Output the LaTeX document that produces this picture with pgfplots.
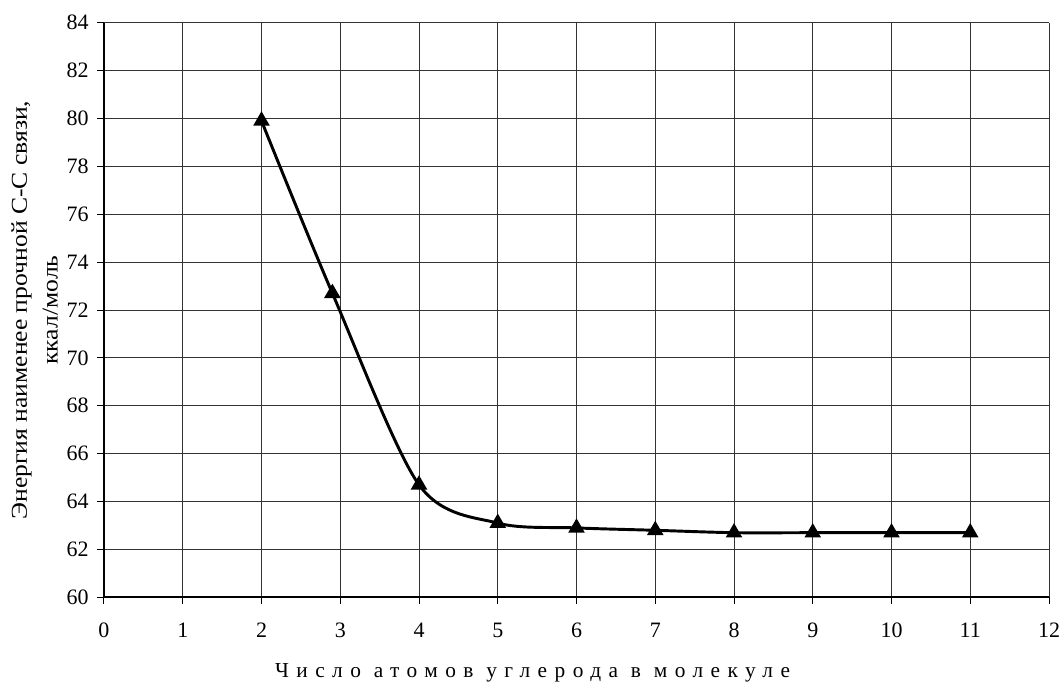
\documentclass[border=0pt]{standalone}
\usepackage{pgfplots}
\pgfplotsset{compat=1.18}
\usepackage{fontspec}
\setmainfont{Liberation Serif}
\newfontfamily\spaced[LetterSpace=35]{Liberation Serif}
\newfontfamily\ylfont[FakeStretch=1.13]{Liberation Serif}
\begin{document}
\begin{tikzpicture}
\begin{axis}[
  scale only axis,
  width=708.75pt, height=431pt,
  xmin=0, xmax=12, ymin=60, ymax=84,
  xtick={0,1,...,12}, ytick={60,62,...,84},
  grid=major,
  major grid style={draw=black!80, line width=0.75pt},
  axis line style={black, line width=1.5pt},
  tick style={black, line width=0.75pt},
  tick align=outside,
  major tick length=5pt,
  axis x line*=bottom, axis y line*=left,
  x axis line style={-},
  y axis line style={-},
  /pgf/number format/assume math mode=true,
  tick label style={font=\fontsize{16.5}{18}\selectfont},
  xticklabel style={anchor=base, yshift=-25pt},
  yticklabel style={anchor=east, xshift=-3pt},
  xlabel={Число атомов углерода в молекуле},
  xlabel style={font=\spaced\fontsize{16}{18}\selectfont, at={(axis description cs:0.5,0)}, anchor=base, yshift=-60pt, xshift=-33pt},
  ylabel={Энергия наименее прочной С-С связи,\\ккал/моль},
  ylabel style={font=\ylfont\fontsize{17}{23}\selectfont, at={(axis description cs:-0.0734,0.5)}, anchor=center, align=center},
]
\coordinate (SW) at (rel axis cs:0,0);
\coordinate (NE) at (rel axis cs:1,1);
\addplot[black, line width=2.2pt, smooth, tension=0.5, mark=triangle*, mark size=5pt, mark options={solid, fill=black}]
coordinates {
(2,79.9) (2.9,72.7) (4,64.7) (5,63.1) (6,62.9) (7,62.8) (8,62.7) (9,62.7) (10,62.7) (11,62.7)
};
\end{axis}
\pgfresetboundingbox
\path[use as bounding box] ([shift={(-78pt,-66.5pt)}]SW) rectangle ([shift={(9.75pt,17pt)}]NE);
\end{tikzpicture}
\end{document}
